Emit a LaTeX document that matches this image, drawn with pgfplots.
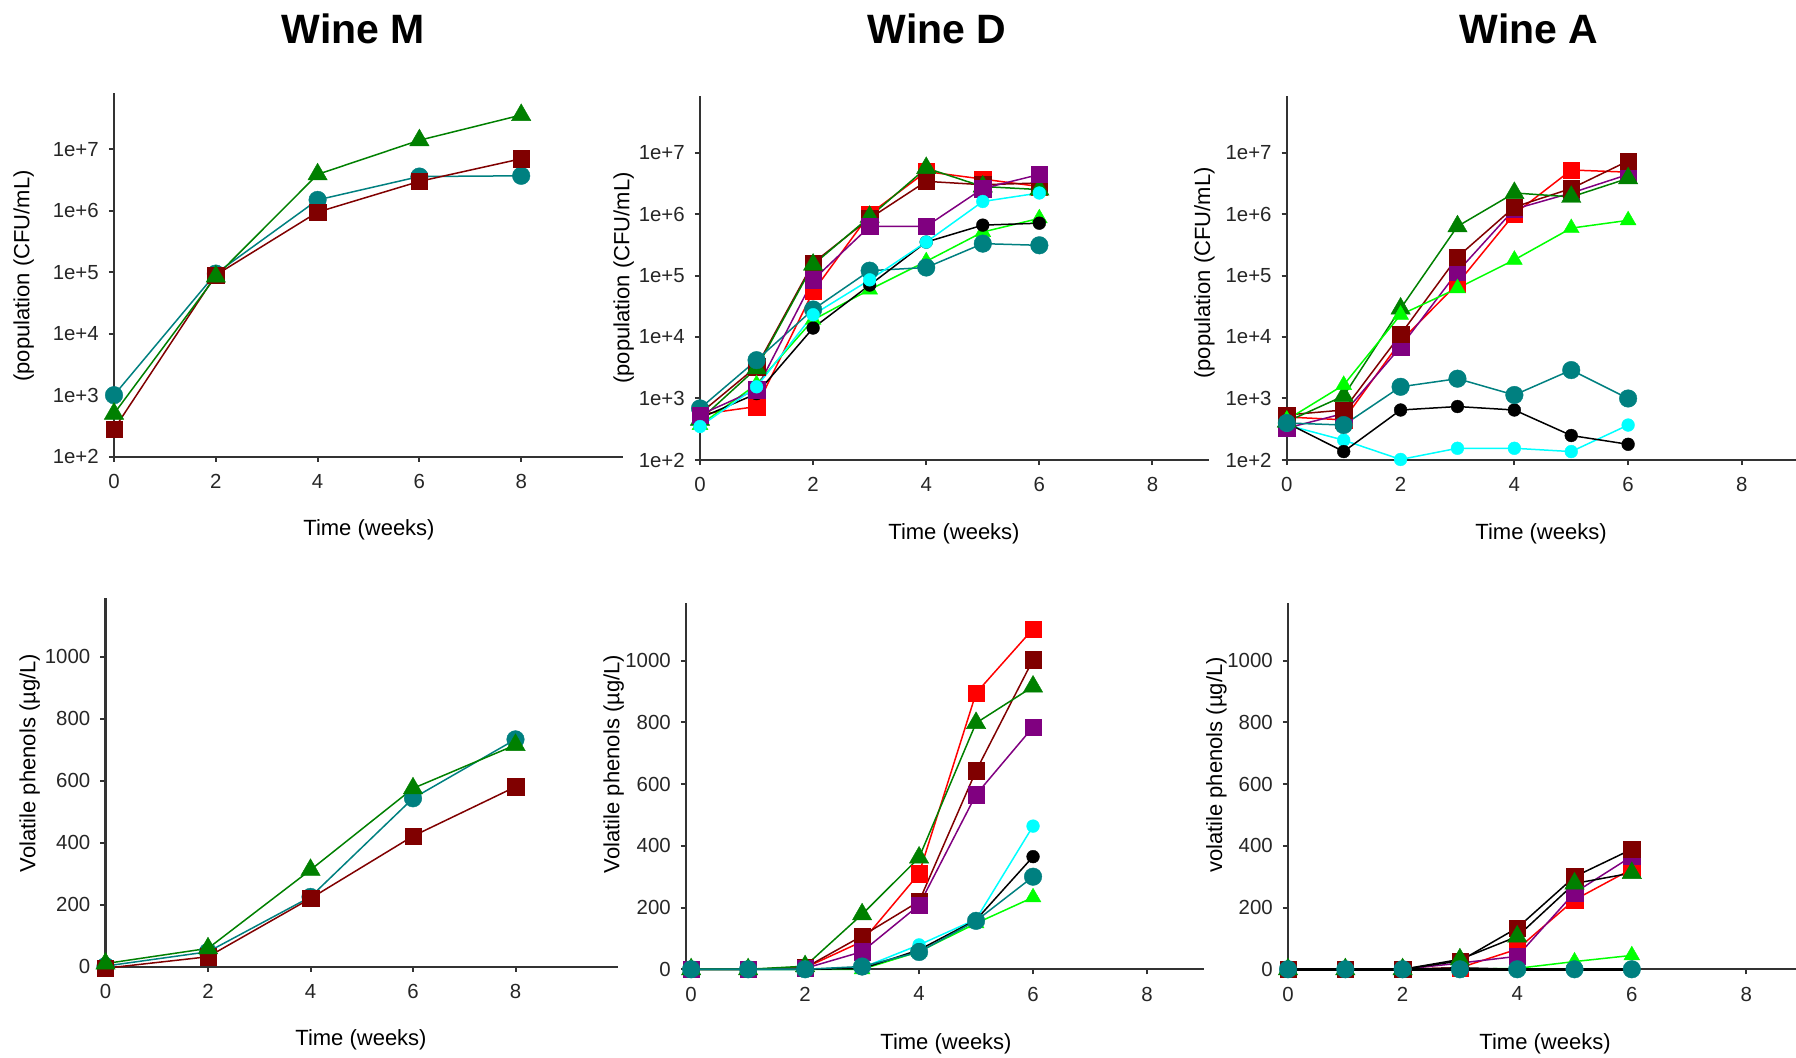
\documentclass[border=0pt]{standalone}
\usepackage{fontspec}
\setmainfont{Liberation Sans}
\usepackage{graphicx}
\usepackage{pgfplots}
\pgfplotsset{compat=1.18}

\definecolor{cteal}{RGB}{0,128,128}
\definecolor{cmaroon}{RGB}{128,0,0}
\definecolor{cgreen}{RGB}{0,128,0}
\definecolor{cred}{RGB}{255,0,0}
\definecolor{cpurple}{RGB}{128,0,128}
\definecolor{ccyan}{RGB}{0,255,255}
\definecolor{clime}{RGB}{0,255,0}

\pgfplotsset{
  panel/.style={
    scale only axis, anchor=south west, clip=false,
    axis x line*=bottom, axis y line*=left,
    axis line style={line width=1.1pt, black!80},
    major tick style={line width=1pt, black!80},
    tick align=outside, major tick length=2.6pt,
    minor tick num=0,
    xtick={0,2,4,6,8}, xticklabels={0,2,4,6,8},
    tick label style={font=\fontsize{10.2}{12}\selectfont, black!85},
    xticklabel style={yshift=-2.7pt},
    yticklabel style={xshift=-1.5pt},
  },
  logpanel/.style={panel, ymin=100, ymax=8.318e7, height=182pt,
    ytick={1e2,1e3,1e4,1e5,1e6,1e7},
    yticklabels={1e+2,1e+3,1e+4,1e+5,1e+6,1e+7}},
  linpanel/.style={panel, ymin=0, ymax=1188,
    ytick={0,200,400,600,800,1000}, yticklabels={0,200,400,600,800,1000}},
  ser/.style n args={3}{color=#1, line width=0.75pt, mark=#2, mark size=#3,
    mark options={solid, fill=#1, draw=#1, line width=0.2pt}},
  sTeal/.style={ser={cteal}{*}{4.4pt}},
  sMaroon/.style={ser={cmaroon}{square*}{4.1pt}},
  sGreen/.style={ser={cgreen}{triangle*}{5.6pt}},
  sRed/.style={ser={cred}{square*}{4.1pt}},
  sPurple/.style={ser={cpurple}{square*}{4.1pt}},
  sCyan/.style={ser={ccyan}{*}{3.2pt}},
  sBlack/.style={ser={black}{*}{3.2pt}},
  sLime/.style={ser={clime}{triangle*}{4.6pt}},
}

\newcommand{\lab}[1]{{\fontsize{11}{13}\selectfont #1}}

\begin{document}
\begin{tikzpicture}
\useasboundingbox (0,0) rectangle (898pt,529pt);

% ---------- titles ----------
\node[anchor=base, font=\fontsize{20.5}{24}\selectfont\bfseries] at (176.65pt,507.35pt) {Wine M};
\node[anchor=base, font=\fontsize{20.5}{24}\selectfont\bfseries] at (468.5pt,507.35pt) {Wine D};
\node[anchor=base, font=\fontsize{20.5}{24}\selectfont\bfseries] at (764.5pt,507.35pt) {Wine A};

% ---------- Wine M, population ----------
\begin{axis}[ymode=log, logpanel, yminorticks=false, at={(57pt,300.65pt)}, width=254.5pt, xmin=0, xmax=10]
\addplot[sTeal] coordinates {(0,1000) (2,95000) (4,1.5e6) (6,3.6e6) (8,3.7e6)};
\addplot[sMaroon] coordinates {(0,280) (2,90000) (4,9.5e5) (6,3.0e6) (8,7.0e6)};
\addplot[sGreen] coordinates {(0,500) (2,85000) (4,3.9e6) (6,1.4e7) (8,3.6e7)};
\end{axis}

% ---------- Wine D, population ----------
\begin{axis}[ymode=log, logpanel, yminorticks=false, at={(350pt,299pt)}, width=254.5pt, xmin=0, xmax=9]
\addplot[sRed] coordinates {(0,550) (1,740) (2,5.5e4) (3,1.0e6) (4,4.9e6) (5,3.7e6) (6,2.8e6)};
\addplot[sMaroon] coordinates {(0,570) (1,3300) (2,1.6e5) (3,8.5e5) (4,3.4e6) (5,3.0e6) (6,3.2e6)};
\addplot[sGreen] coordinates {(0,450) (1,3100) (2,1.5e5) (3,9e5) (4,5.6e6) (5,2.8e6) (6,2.5e6)};
\addplot[sLime] coordinates {(0,370) (1,1700) (2,1.9e4) (3,5.9e4) (4,1.7e5) (5,5.1e5) (6,8.5e5)};
\addplot[sTeal] coordinates {(0,690) (1,4200) (2,2.8e4) (3,1.2e5) (4,1.35e5) (5,3.3e5) (6,3.1e5)};
\addplot[sBlack] coordinates {(0,480) (1,1200) (2,1.4e4) (3,7e4) (4,3.5e5) (5,6.6e5) (6,7.1e5)};
\addplot[sPurple] coordinates {(0,540) (1,1400) (2,8.5e4) (3,6.3e5) (4,6.3e5) (5,2.6e6) (6,4.4e6)};
\addplot[sCyan] coordinates {(0,350) (1,1550) (2,2.3e4) (3,8.5e4) (4,3.5e5) (5,1.6e6) (6,2.2e6)};
\end{axis}

% ---------- Wine A, population ----------
\begin{axis}[ymode=log, logpanel, yminorticks=false, at={(643.4pt,299pt)}, width=256pt, xmin=0, xmax=9]
\addplot[sRed] coordinates {(0,500) (1,450) (2,8500) (3,7.4e4) (4,1.0e6) (5,5.2e6) (6,4.8e6)};
\addplot[sPurple] coordinates {(0,330) (1,570) (2,6900) (3,1.15e5) (4,1.2e6) (5,2.2e6) (6,4.4e6)};
\addplot[sMaroon] coordinates {(0,540) (1,650) (2,1.1e4) (3,2.0e5) (4,1.3e6) (5,2.6e6) (6,7.3e6)};
\addplot[sGreen] coordinates {(0,420) (1,1100) (2,2.9e4) (3,6.3e5) (4,2.2e6) (5,1.9e6) (6,3.8e6)};
\addplot[sLime] coordinates {(0,450) (1,1660) (2,2.3e4) (3,6.2e4) (4,1.8e5) (5,5.9e5) (6,7.9e5)};
\addplot[sCyan] coordinates {(0,370) (1,210) (2,102) (3,155) (4,155) (5,137) (6,370)};
\addplot[sBlack] coordinates {(0,400) (1,137) (2,650) (3,740) (4,650) (5,250) (6,180)};
\addplot[sTeal] coordinates {(0,400) (1,370) (2,1550) (3,2100) (4,1140) (5,2900) (6,1000)};
\end{axis}

% ---------- Wine M, volatile phenols ----------
\begin{axis}[linpanel, at={(52.75pt,45.65pt)}, width=256.25pt, height=184.2pt, xmin=0, xmax=10]
\addplot[sTeal] coordinates {(0,2) (2,48) (4,225) (6,543) (8,733)};
\addplot[sMaroon] coordinates {(0,-5) (2,32) (4,220) (6,421) (8,580)};
\addplot[sGreen] coordinates {(0,10) (2,59) (4,312) (6,575) (8,715)};
\end{axis}

% ---------- Wine D, volatile phenols ----------
\begin{axis}[linpanel, at={(343pt,44.35pt)}, width=259pt, height=183.3pt, xmin=-0.09, xmax=9]
\addplot[sRed] coordinates {(0,0) (1,0) (2,5) (3,90) (4,310) (5,895) (6,1103)};
\addplot[sMaroon] coordinates {(0,0) (1,0) (2,5) (3,108) (4,220) (5,643) (6,1003)};
\addplot[sPurple] coordinates {(0,0) (1,0) (2,3) (3,57) (4,208) (5,566) (6,785)};
\addplot[sGreen] coordinates {(0,0) (1,0) (2,10) (3,178) (4,362) (5,798) (6,916)};
\addplot[sLime] coordinates {(0,0) (1,0) (2,0) (3,0) (4,57) (5,149) (6,233)};
\addplot[sCyan] coordinates {(0,0) (1,0) (2,0) (3,5) (4,79) (5,162) (6,464)};
\addplot[sBlack] coordinates {(0,0) (1,0) (2,0) (3,2) (4,63) (5,160) (6,365)};
\addplot[sTeal] coordinates {(0,0) (1,0) (2,0) (3,9) (4,56) (5,157) (6,300)};
\end{axis}

% ---------- Wine A, volatile phenols ----------
\begin{axis}[linpanel, at={(644pt,44.35pt)}, width=257.85pt, height=183.3pt, xmin=0, xmax=9]
\addplot[sCyan] coordinates {(0,0) (1,0) (2,0) (3,0) (4,0) (5,0) (6,0)};
\addplot[sLime] coordinates {(0,0) (1,0) (2,0) (3,0) (4,3) (5,25) (6,45)};
\addplot[sRed] coordinates {(0,0) (1,0) (2,0) (3,5) (4,65) (5,225) (6,325)};
\addplot[sPurple] coordinates {(0,0) (1,0) (2,0) (3,20) (4,42) (5,248) (6,366)};
\addplot[sBlack] coordinates {(0,0) (1,0) (2,0) (3,5) (4,0) (5,0) (6,0)};
\addplot[sMaroon, draw=black] coordinates {(0,0) (1,0) (2,0) (3,27) (4,134) (5,300) (6,389)};
\addplot[sGreen, draw=black] coordinates {(0,0) (1,0) (2,0) (3,32) (4,106) (5,278) (6,312)};
\addplot[sTeal, draw=black, line width=1.3pt] coordinates {(0,0) (1,0) (2,0) (3,0) (4,0) (5,0) (6,0)};
\end{axis}

% ---------- axis titles ----------
\node[rotate=90] at (11.85pt,391pt) {\lab{(population (CFU/mL)}};
\node[rotate=90] at (311.8pt,390pt) {\lab{(population (CFU/mL)}};
\node[rotate=90] at (602.25pt,392.5pt) {\lab{(population (CFU/mL)}};
\node[rotate=90] at (14.85pt,147.5pt) {\lab{Volatile phenols (µg/L)}};
\node[rotate=90] at (306.85pt,147pt) {\lab{Volatile phenols (µg/L)}};
\node[rotate=90] at (608.2pt,146.5pt) {\lab{volatile phenols (µg/L)}};

\node at (184.5pt,264pt) {\lab{Time (weeks)}};
\node at (477pt,262pt) {\lab{Time (weeks)}};
\node at (770.5pt,262pt) {\lab{Time (weeks)}};
\node at (180.5pt,9pt) {\lab{Time (weeks)}};
\node at (473pt,7.25pt) {\lab{Time (weeks)}};
\node at (772.5pt,7.25pt) {\lab{Time (weeks)}};
\end{tikzpicture}
\end{document}
